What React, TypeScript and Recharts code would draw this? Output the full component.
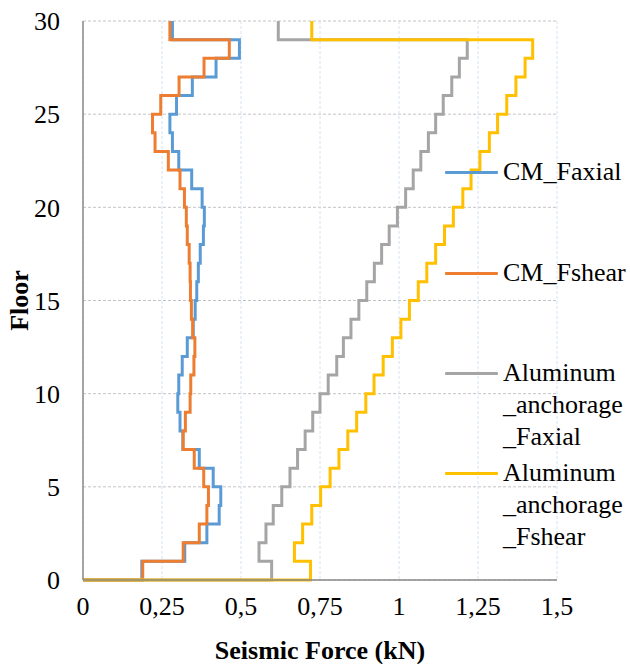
import React from "react";
import { LineChart, Line, XAxis, YAxis, CartesianGrid } from "recharts";

// per-floor values (storey i -> i+1)
const cmFaxial = [
  0.186, 0.322, 0.392, 0.431, 0.436, 0.412, 0.368, 0.316, 0.307, 0.3,
  0.303, 0.314, 0.33, 0.349, 0.355, 0.36, 0.365, 0.371, 0.381, 0.384,
  0.377, 0.344, 0.303, 0.283, 0.275, 0.296, 0.346, 0.421, 0.495, 0.283,
];
const cmFshear = [
  0.189, 0.317, 0.368, 0.392, 0.397, 0.382, 0.352, 0.317, 0.324, 0.339,
  0.341, 0.351, 0.354, 0.347, 0.343, 0.34, 0.339, 0.336, 0.33, 0.327,
  0.321, 0.307, 0.27, 0.228, 0.22, 0.246, 0.304, 0.383, 0.463, 0.275,
];
const alFaxial = [
  0.597, 0.557, 0.579, 0.602, 0.629, 0.655, 0.679, 0.703, 0.727, 0.75,
  0.776, 0.803, 0.824, 0.848, 0.873, 0.898, 0.922, 0.945, 0.969, 0.995,
  1.021, 1.045, 1.069, 1.093, 1.116, 1.14, 1.167, 1.191, 1.216, 0.618,
];
const alFshear = [
  0.72, 0.669, 0.695, 0.724, 0.752, 0.782, 0.81, 0.838, 0.866, 0.895,
  0.921, 0.95, 0.979, 1.006, 1.033, 1.061, 1.088, 1.116, 1.144, 1.172,
  1.202, 1.228, 1.256, 1.286, 1.312, 1.341, 1.37, 1.399, 1.423, 0.724,
];

const xTicks = [0, 0.25, 0.5, 0.75, 1, 1.25, 1.5];
const yTicks = [0, 5, 10, 15, 20, 25, 30];

const FONT = '"Liberation Serif", "Times New Roman", serif';

// turn per-floor values into a step path: start at origin, hold value over each storey
const toSteps = (vals: number[]) => {
  const pts = [{ x: 0, y: 0 }];
  vals.forEach((v, i) => {
    pts.push({ x: v, y: i });
    pts.push({ x: v, y: i + 1 });
  });
  return pts;
};

const series = [
  { name: ["CM_Faxial"], color: "#5B9BD5", data: toSteps(cmFaxial), top: 172 },
  { name: ["CM_Fshear"], color: "#ED7D31", data: toSteps(cmFshear), top: 273 },
  { name: ["Aluminum", "_anchorage", "_Faxial"], color: "#A5A5A5", data: toSteps(alFaxial), top: 373 },
  { name: ["Aluminum", "_anchorage", "_Fshear"], color: "#FFC000", data: toSteps(alFshear), top: 473 },
];

export default function App() {
  return (
    <div style={{ position: "absolute", left: 0, top: 0, width: 630, height: 664, background: "#fff", fontFamily: FONT }}>
      <LineChart width={630} height={664} margin={{ top: 21, right: 73, bottom: 0, left: 0 }}>
        <CartesianGrid horizontal={true} vertical={false} stroke="#c4c4c4" strokeDasharray="3 2" />
        <CartesianGrid horizontal={false} vertical={true} stroke="#d5e2f1" strokeDasharray="3 2" />
        <XAxis
          type="number"
          dataKey="x"
          domain={[0, 1.5]}
          ticks={xTicks}
          tickFormatter={(v) => String(v).replace(".", ",")}
          tick={{ fontSize: 26, fill: "#000", fontFamily: FONT }}
          tickLine={false}
          tickSize={0}
          tickMargin={17}
          axisLine={{ stroke: "#898989", strokeWidth: 1.5 }}
          height={84}
          label={{
            value: "Seismic Force (kN)",
            position: "insideBottom",
            offset: 5,
            style: { fontSize: 26, fontWeight: "bold", fill: "#000", fontFamily: FONT },
          }}
        />
        <YAxis
          type="number"
          dataKey="y"
          domain={[0, 30]}
          ticks={yTicks}
          tick={{ fontSize: 26, fill: "#000", fontFamily: FONT }}
          tickLine={false}
          tickSize={0}
          tickMargin={23}
          axisLine={{ stroke: "#898989", strokeWidth: 1.5 }}
          width={83}
          label={{
            value: "Floor",
            angle: -90,
            position: "insideLeft",
            offset: 19,
            style: { fontSize: 26, fontWeight: "bold", fill: "#000", fontFamily: FONT, textAnchor: "middle" },
          }}
        />
        {series.map((s) => (
          <Line
            key={s.name.join("")}
            data={s.data}
            dataKey="y"
            type="linear"
            stroke={s.color}
            strokeWidth={3}
            dot={false}
            activeDot={false}
            isAnimationActive={false}
          />
        ))}
      </LineChart>
      {series.map((s) => (
        <div key={s.name.join("")} style={{ position: "absolute", left: 445, top: s.top - 16 }}>
          <div style={{ position: "absolute", left: 0, top: 14.5, width: 53, height: 3, background: s.color, borderRadius: 1 }} />
          <div style={{ position: "absolute", left: 58, top: 0, fontSize: 26, lineHeight: "32px", color: "#000", whiteSpace: "nowrap" }}>
            {s.name.map((l) => (
              <div key={l}>{l}</div>
            ))}
          </div>
        </div>
      ))}
    </div>
  );
}
